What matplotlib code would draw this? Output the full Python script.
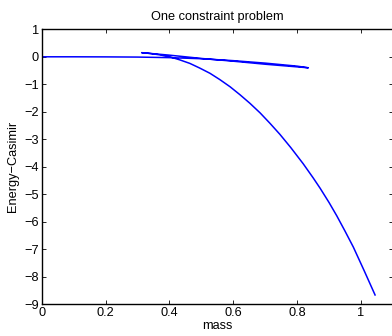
import matplotlib
matplotlib.use("Agg")
import matplotlib.pyplot as plt

plt.rcParams.update({"font.family": ["Liberation Sans", "DejaVu Sans"], "font.size": 9.2})

# stable branch from origin to the right cusp
mass_a = [0.0, 0.1, 0.2, 0.3, 0.4, 0.5, 0.6, 0.7, 0.8, 0.835]
ec_a = [0.0, 0.0, -0.003, -0.01, -0.03, -0.07, -0.14, -0.23, -0.34, -0.40]
# upper branch back to the left cusp
mass_b = [0.835, 0.7, 0.6, 0.5, 0.4, 0.313]
ec_b = [-0.40, -0.27, -0.16, -0.06, 0.06, 0.15]
# falling branch
mass_c = [0.313, 0.34, 0.37, 0.401, 0.432, 0.464, 0.495, 0.527, 0.558, 0.59, 0.621,
          0.652, 0.684, 0.715, 0.746, 0.78, 0.819, 0.85, 0.872, 0.90, 0.924, 0.95,
          0.976, 1.01, 1.044]
ec_c = [0.15, 0.12, 0.07, 0.0, -0.11, -0.24, -0.41, -0.60, -0.83, -1.09, -1.38,
        -1.69, -2.04, -2.42, -2.82, -3.30, -3.89, -4.40, -4.78, -5.30, -5.78, -6.34,
        -6.92, -7.78, -8.66]

mass = mass_a + mass_b[1:] + mass_c[1:]
ec = ec_a + ec_b[1:] + ec_c[1:]

fig = plt.figure(figsize=(3.92, 3.36), dpi=100)
ax = fig.add_axes([0.1064, 0.0943, 0.896, 0.8185])
ax.plot(mass, ec, color="#0000ff", lw=1.1)
ax.set_xlim(0, 1.1)
ax.set_ylim(-9, 1)
ax.set_xticks([0, 0.2, 0.4, 0.6, 0.8, 1])
ax.set_xticklabels(["0", "0.2", "0.4", "0.6", "0.8", "1"])
ax.set_yticks(range(-9, 2))
ax.set_yticklabels([str(v).replace("-", "\u2212") for v in range(-9, 2)])
ax.tick_params(direction="in", top=True, right=True, length=3, width=0.6, pad=2)
for s in ax.spines.values():
    s.set_linewidth(1.0)
ax.set_xlabel("mass", labelpad=1)
ax.set_ylabel("Energy\u2212Casimir", labelpad=4)
ax.set_title("One constraint problem", fontsize=9.2, pad=7)
fig.savefig("out.png", dpi=100)
